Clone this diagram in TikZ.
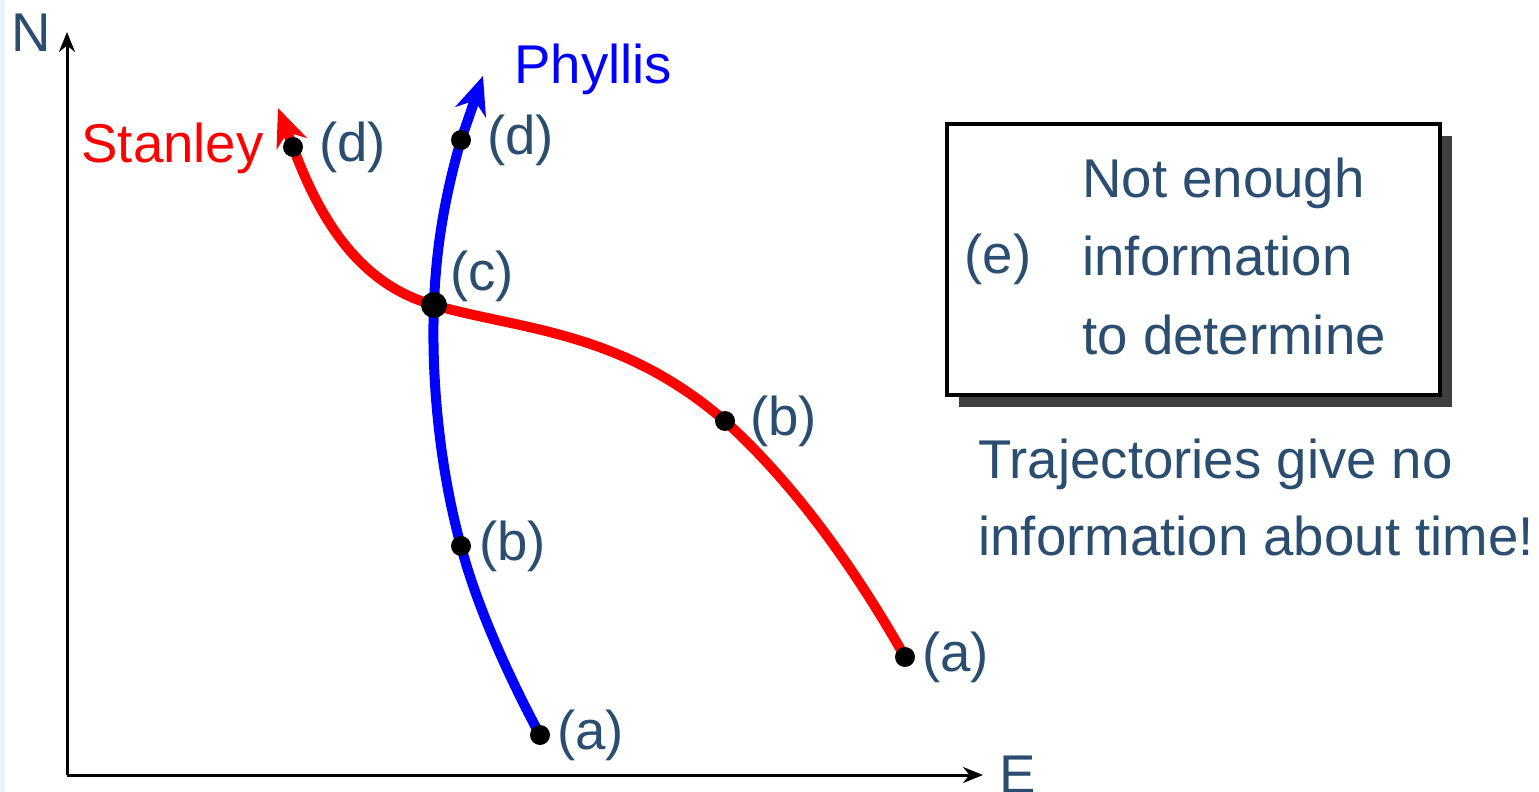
\documentclass[tikz,border=0pt]{standalone}
\usepackage{fontspec}
\setmainfont{Liberation Sans}
\usetikzlibrary{arrows.meta,shadows}
\definecolor{txt}{HTML}{2B4D70}
\definecolor{strip}{HTML}{E6F1FA}
\definecolor{shade}{HTML}{404040}
\begin{document}
\begin{tikzpicture}[x=0.5pt,y=-0.5pt,
  lbl/.style={text=txt,font=\fontsize{27.3}{32}\selectfont,inner sep=0pt},
  axis/.style={line width=1.5pt,-{Stealth[length=10pt,width=8pt]}},
  traj/.style={line width=5pt,-{Stealth[length=19pt,width=16pt,inset=6pt]}},
  dot/.style={circle,fill=black,inner sep=0pt,minimum size=10pt},
  bigdot/.style={circle,fill=black,inner sep=0pt,minimum size=13pt}]
\useasboundingbox (0,0) rectangle (1539,792);
\fill[strip] (0,0) rectangle (5,792);
% axes
\coordinate (O) at (67,775);
\coordinate (Ntip) at (67,32);
\coordinate (Etip) at (983,775);
\draw[axis] (O) -- (Ntip);
\draw[axis] (O) -- (Etip);
\node[lbl] (N) at (31,33) {N};
\node[lbl] (E) at (1018,775) {E};
% points
\coordinate (pa) at (540,735);
\coordinate (pb) at (461,546);
\coordinate (c) at (434,305);
\coordinate (pd) at (461,140);
\coordinate (ptip) at (483,76);
\coordinate (sa) at (905,657);
\coordinate (sb) at (725,421);
\coordinate (sd) at (293,147);
\coordinate (stip) at (278,108);
% curves
\draw[traj,blue] (pa) .. controls (505,670) and (475,600) .. (pb)
  .. controls (440,470) and (431,380) .. (c)
  .. controls (436,240) and (448,185) .. (pd) -- (ptip);
\draw[traj,red] (sa) .. controls (850,560) and (790,480) .. (sb)
  .. controls (620,330) and (520,330) .. (c)
  .. controls (360,285) and (320,220) .. (sd) -- (stip);
% dots
\node[dot] (dpa) at (pa) {};
\node[dot] (dpb) at (pb) {};
\node[dot] (dpd) at (pd) {};
\node[dot] (dsa) at (sa) {};
\node[dot] (dsb) at (sb) {};
\node[dot] (dsd) at (sd) {};
\node[bigdot] (dc) at (c) {};
% labels
\node[lbl,anchor=west] (lpa) at (557,735) {(a)};
\node[lbl,anchor=west] (lpb) at (479,546) {(b)};
\node[lbl,anchor=west] (lc) at (450,276) {(c)};
\node[lbl,anchor=west] (lpd) at (487,140) {(d)};
\node[lbl,anchor=west] (lsd) at (319,147) {(d)};
\node[lbl,anchor=west] (lsb) at (750,421) {(b)};
\node[lbl,anchor=west] (lsa) at (922,657) {(a)};
\node[lbl,text=red,anchor=base east] (stan) at (264,163) {Stanley};
\node[lbl,text=blue,anchor=base west] (phy) at (514,84) {Phyllis};
% box
\node[draw=black,line width=2pt,fill=white,minimum width=246.5pt,minimum height=135.5pt,
      drop shadow={shadow xshift=6pt,shadow yshift=-6pt,fill=shade,opacity=1}] (box) at (1193.5,259.5) {};
\node[lbl] (e) at (998,259) {(e)};
\node[lbl,anchor=base west] (t1) at (1082,198) {Not enough};
\node[lbl,anchor=base west] (t2) at (1082,276) {information};
\node[lbl,anchor=base west] (t3) at (1082,354) {to determine};
\node[lbl,anchor=base west] (n1) at (978,478) {Trajectories give no};
\node[lbl,anchor=base west] (n2) at (978,555) {information about time!};
\end{tikzpicture}
\end{document}
